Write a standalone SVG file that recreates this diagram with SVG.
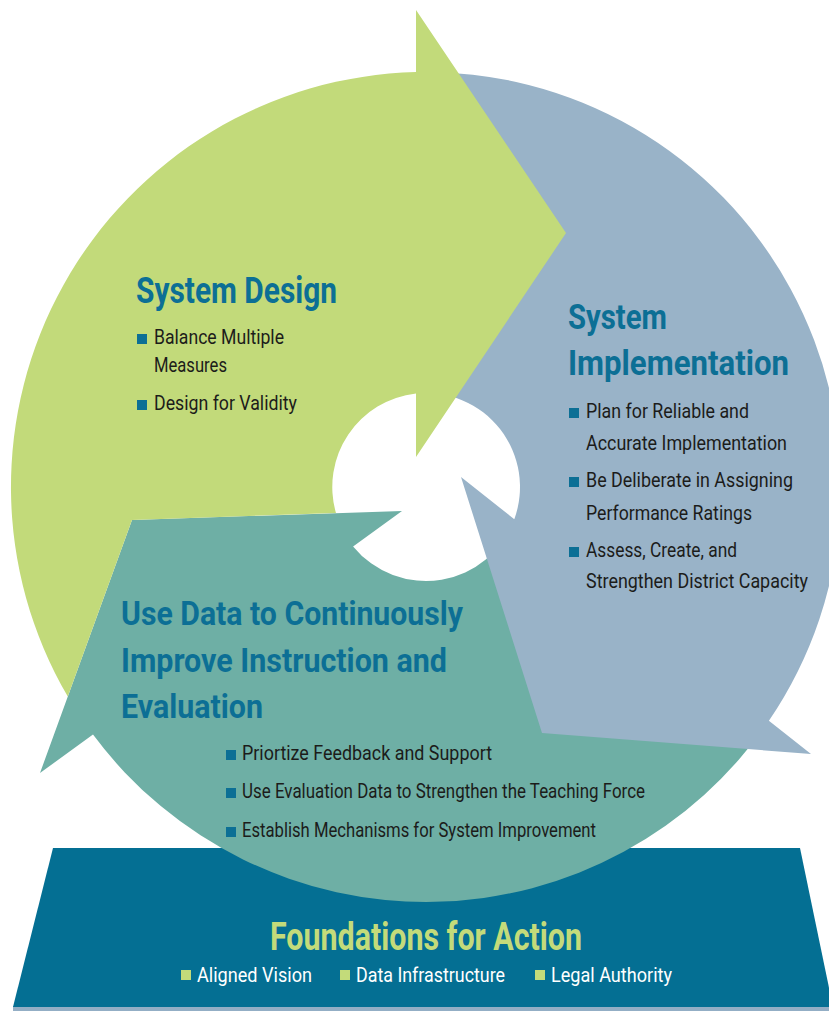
<svg xmlns="http://www.w3.org/2000/svg" width="829" height="1011" viewBox="0 0 829 1011">
  <style>
    .title { font-family: Roboto, "Liberation Sans", sans-serif; font-weight: 700; fill: #0c6f95; }
    .item { font-family: Roboto, "Liberation Sans", sans-serif; font-weight: 400; font-size: 20.5px; fill: #1c1c1a; }
    .base-title { font-family: Roboto, "Liberation Sans", sans-serif; font-weight: 700; font-size: 38px; fill: #c3db7a; }
    .base-item { font-family: Roboto, "Liberation Sans", sans-serif; font-weight: 400; font-size: 21px; fill: #ffffff; }
    .dot { fill: #0c6f95; }
    .dot-light { fill: #c3db7a; }
  </style>

  <rect width="829" height="1011" fill="#ffffff"/>

  <!-- Foundation slab under the cycle -->
  <g id="foundations">
    <rect x="13" y="1006" width="816" height="5" fill="#93aec5"/>
    <polygon points="53,848 800,848 833,1007 13,1007" fill="#046f93"/>
  </g>

  <!-- Cycle segments: each ring segment ends in an arrowhead that overlaps the next one -->
  <g id="connectors">
    <path id="seg-use-data" d="M 768.9,720.7 A 415 415 0 0 1 93,734.6 L 40,773 L 132,520 L 402,511 L 353.1,546.4 A 94 94 0 0 0 514.3,519.2 Z" fill="#6eafa5"/>
    <path id="seg-implementation" d="M 416,72.1 A 415 415 0 0 1 768.9,720.7 L 811,754 L 542,733 L 461,477 L 514.3,519.2 A 94 94 0 0 0 416,393.5 Z" fill="#99b3c8"/>
    <path id="seg-design" d="M 67.8,696.6 A 415 415 0 0 1 416,72.1 L 416,10 L 566,233 L 416,457 L 416,393.5 A 94 94 0 0 0 336,513.1 L 132,520 Z" fill="#c2da7a"/>
  </g>

  <g id="system-design">
    <text class="title" x="136" y="303" font-size="36.5" textLength="201" lengthAdjust="spacingAndGlyphs">System Design</text>
    <rect class="dot" x="137" y="334" width="10" height="10"/>
    <text class="item" x="154" y="344" textLength="130" lengthAdjust="spacingAndGlyphs">Balance Multiple</text>
    <text class="item" x="154" y="372" textLength="73" lengthAdjust="spacingAndGlyphs">Measures</text>
    <rect class="dot" x="137" y="400" width="10" height="10"/>
    <text class="item" x="154" y="410" textLength="143" lengthAdjust="spacingAndGlyphs">Design for Validity</text>
  </g>

  <g id="system-implementation">
    <text class="title" x="568" y="329" font-size="35" textLength="99" lengthAdjust="spacingAndGlyphs">System</text>
    <text class="title" x="568" y="375" font-size="35" textLength="221" lengthAdjust="spacingAndGlyphs">Implementation</text>
    <rect class="dot" x="569" y="408" width="10" height="10"/>
    <text class="item" x="586" y="418" textLength="163" lengthAdjust="spacingAndGlyphs">Plan for Reliable and</text>
    <text class="item" x="586" y="450" textLength="201" lengthAdjust="spacingAndGlyphs">Accurate Implementation</text>
    <rect class="dot" x="569" y="477" width="10" height="10"/>
    <text class="item" x="586" y="487" textLength="207" lengthAdjust="spacingAndGlyphs">Be Deliberate in Assigning</text>
    <text class="item" x="586" y="520" textLength="166" lengthAdjust="spacingAndGlyphs">Performance Ratings</text>
    <rect class="dot" x="569" y="547" width="10" height="10"/>
    <text class="item" x="586" y="557" textLength="151" lengthAdjust="spacingAndGlyphs">Assess, Create, and</text>
    <text class="item" x="586" y="588" textLength="222" lengthAdjust="spacingAndGlyphs">Strengthen District Capacity</text>
  </g>

  <g id="use-data">
    <text class="title" x="121" y="625" font-size="33" textLength="342" lengthAdjust="spacingAndGlyphs">Use Data to Continuously</text>
    <text class="title" x="121" y="672" font-size="33" textLength="326" lengthAdjust="spacingAndGlyphs">Improve Instruction and</text>
    <text class="title" x="121" y="718" font-size="33" textLength="142" lengthAdjust="spacingAndGlyphs">Evaluation</text>
    <rect class="dot" x="226" y="750" width="10" height="10"/>
    <text class="item" x="242" y="760" textLength="250" lengthAdjust="spacingAndGlyphs">Priortize Feedback and Support</text>
    <rect class="dot" x="226" y="788" width="10" height="10"/>
    <text class="item" x="242" y="798" textLength="403" lengthAdjust="spacingAndGlyphs">Use Evaluation Data to Strengthen the Teaching Force</text>
    <rect class="dot" x="226" y="827" width="10" height="10"/>
    <text class="item" x="242" y="837" textLength="354" lengthAdjust="spacingAndGlyphs">Establish Mechanisms for System Improvement</text>
  </g>

  <g id="foundations-text">
    <text class="base-title" x="270" y="950" textLength="312" lengthAdjust="spacingAndGlyphs">Foundations for Action</text>
    <rect class="dot-light" x="181" y="970" width="10" height="10"/>
    <text class="base-item" x="197" y="982" textLength="115" lengthAdjust="spacingAndGlyphs">Aligned Vision</text>
    <rect class="dot-light" x="340" y="970" width="10" height="10"/>
    <text class="base-item" x="356" y="982" textLength="149" lengthAdjust="spacingAndGlyphs">Data Infrastructure</text>
    <rect class="dot-light" x="535" y="970" width="10" height="10"/>
    <text class="base-item" x="551" y="982" textLength="121" lengthAdjust="spacingAndGlyphs">Legal Authority</text>
  </g>
</svg>
